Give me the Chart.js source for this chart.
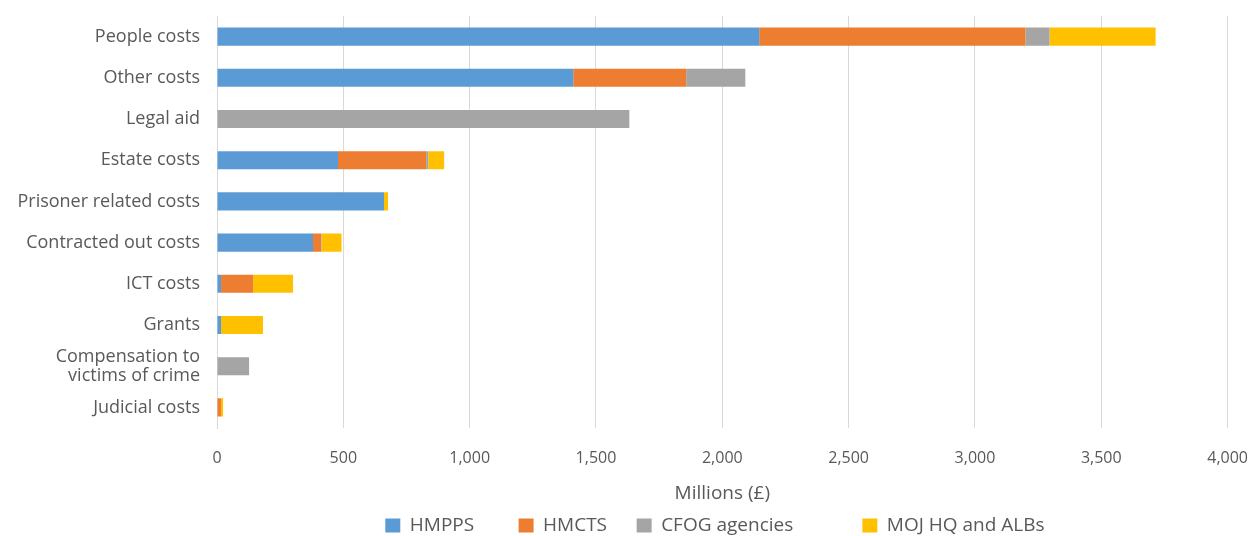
<!DOCTYPE html>
<html lang="en">
<head>
    <meta charset="UTF-8">
    <title>Expenditure by cost type</title>
    <style>
        body { margin: 0; background: #fff; }
        .wrap { width: 1250px; height: 536px; }
    </style>
    <script src="https://cdn.jsdelivr.net/npm/chart.js"></script>
</head>
<body>
    <div class="wrap"><canvas id="costChart" width="1250" height="536"></canvas></div>
    <script>
        // Cost categories, top to bottom
        const categories = [
            'People costs', 'Other costs', 'Legal aid', 'Estate costs',
            'Prisoner related costs', 'Contracted out costs', 'ICT costs',
            'Grants', ['Compensation to', 'victims of crime'], 'Judicial costs'
        ];

        // Spend in £ millions by business area
        const hmpps    = [2146, 1410,    0, 479, 661, 380,  16,  16,   0,  0];
        const hmcts    = [1054,  447,    0, 349,   0,  32, 127,   0,   0, 16];
        const cfog     = [  95,  234, 1632,   8,   0,   2,   0,   0, 127,  0];
        const mojHqAlb = [ 420,    0,    0,  63,  16,  79, 158, 166,   0,  8];

        const xTicks = [0, 500, 1000, 1500, 2000, 2500, 3000, 3500, 4000];

        const textColour = '#595959';
        const gridColour = '#d9d9d9';
        const fontFamily = '"Open Sans", "Noto Sans", sans-serif';

        // gap after each legend entry, in spaces
        const legendGaps = [9, 6, 14, 3];

        function series(label, data, colour) {
            return {
                label: label,
                data: data,
                backgroundColor: colour,
                borderWidth: 0,
                barPercentage: 0.88,
                categoryPercentage: 0.5
            };
        }

        new Chart(document.getElementById('costChart').getContext('2d'), {
            type: 'bar',
            data: {
                labels: categories,
                datasets: [
                    series('HMPPS', hmpps, '#5B9BD5'),
                    series('HMCTS', hmcts, '#ED7D31'),
                    series('CFOG agencies', cfog, '#A5A5A5'),
                    series('MOJ HQ and ALBs', mojHqAlb, '#FFC000')
                ]
            },
            options: {
                indexAxis: 'y',
                responsive: false,
                animation: false,
                // the legend box carries 10px of empty space under it; let that fall off the bottom
                layout: { padding: { top: 16, right: 0, left: 0, bottom: -9 } },
                plugins: {
                    tooltip: { enabled: false },
                    legend: {
                        position: 'bottom',
                        fullSize: false,
                        labels: {
                            color: textColour,
                            font: { family: fontFamily, size: 19 },
                            boxWidth: 15,
                            boxHeight: 14,
                            padding: 0,
                            generateLabels: chart => {
                                const items = Chart.defaults.plugins.legend.labels.generateLabels(chart);
                                items.forEach((item, i) => { item.text += ' '.repeat(legendGaps[i]); });
                                return items;
                            }
                        }
                    }
                },
                scales: {
                    x: {
                        stacked: true,
                        min: 0,
                        max: 4000,
                        afterBuildTicks: axis => { axis.ticks = xTicks.map(v => ({ value: v })); },
                        grid: { color: gridColour, lineWidth: 1, tickLength: 19, tickColor: 'rgba(0,0,0,0)' },
                        border: { display: false },
                        ticks: {
                            color: textColour,
                            font: { family: fontFamily, size: 16 },
                            padding: 2,
                            maxRotation: 0,
                            callback: v => v.toLocaleString('en-US')
                        },
                        title: {
                            display: true,
                            text: 'Millions (£)',
                            color: textColour,
                            font: { family: fontFamily, size: 19 },
                            padding: { top: 12, bottom: 11 }
                        }
                    },
                    y: {
                        stacked: true,
                        afterFit: axis => { axis.width = 217; },
                        grid: { drawOnChartArea: false, tickLength: 15, tickColor: 'rgba(0,0,0,0)' },
                        border: { display: true, color: gridColour },
                        ticks: {
                            autoSkip: false,
                            color: textColour,
                            font: { family: fontFamily, size: 18, lineHeight: 1.05 },
                            padding: 2
                        }
                    }
                }
            }
        });
    </script>
</body>
</html>
